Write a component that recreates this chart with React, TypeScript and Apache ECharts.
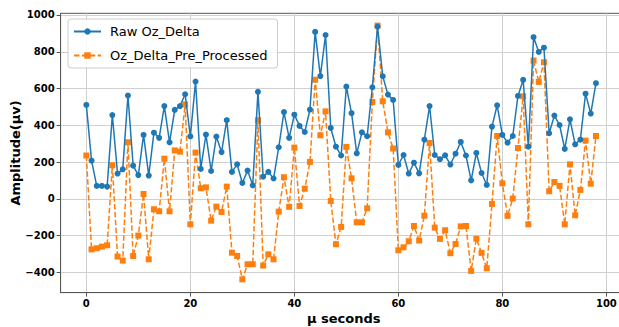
import React, { useEffect, useRef } from "react";
import * as echarts from "echarts";

const rawOzDelta = [
  511, 208, 71, 71, 67, 456, 138, 161, 562, 181,
  130, 348, 127, 360, 332, 505, 308, 484, 505, 569,
  340, 638, 163, 350, 152, 339, 255, 428, 147, 188,
  87, 154, 74, 582, 121, 147, 111, 281, 472, 332,
  458, 397, 364, 485, 908, 668, 891, 386, 284, 236,
  611, 466, 248, 362, 341, 607, 937, 667, 567, 538,
  185, 239, 138, 197, 139, 322, 505, 239, 216, 237,
  187, 246, 310, 236, 101, 250, 141, 76, 393, 509,
  348, 306, 342, 560, 647, 284, 879, 799, 822, 357,
  453, 402, 272, 433, 297, 322, 572, 464, 629,
];

const preProcessed = [
  236, -274, -268, -259, -252, 183, -313, -335, 308, -310,
  -199, 27, -328, -56, -67, 219, -67, 264, 257, 514,
  -138, 252, 58, 63, -118, -42, -71, 67, -292, -310,
  -437, -355, -355, 428, -362, -301, -328, -69, 118, -43,
  279, -38, 56, 201, 648, 346, 476, -11, -246, -152,
  283, 112, -127, -127, -51, 527, 942, 531, 362, 274,
  -279, -263, -230, -147, -226, -91, 304, -156, -217, -170,
  -295, -245, -149, -147, -391, -216, -293, -377, -27, 342,
  85, -92, 2, 277, 558, -138, 752, 636, 743, 42,
  92, 71, -138, 188, -89, 49, 317, 83, 342,
];

const seriesNames = ["Raw Oz_Delta", "Oz_Delta_Pre_Processed"];
const xTickLabels = [0, 20, 40, 60, 80, 100];
const yTickLabels = [-400, -200, 0, 200, 400, 600, 800, 1000];

const FONT = "DejaVu Sans";

export default function App() {
  const ref = useRef<HTMLDivElement>(null);
  useEffect(() => {
    document.body.style.margin = "0";
    const chart = echarts.init(ref.current!, null, { renderer: "svg" });
    const fmtNum = (v: number) => (v < 0 ? "\u2212" + Math.abs(v) : String(v));
    chart.setOption({
      animation: false,
      backgroundColor: "#ffffff",
      grid: {
        left: 60.6,
        top: 13.3,
        width: 566.3,
        height: 279.3,
        outerBoundsMode: "none",
        containLabel: false,
        show: true,
        borderColor: "#555",
        borderWidth: 1,
        backgroundColor: "transparent",
      },
      legend: {
        left: 68,
        top: 19,
        orient: "vertical",
        padding: [6, 10, 6, 5],
        itemWidth: 27,
        itemHeight: 8,
        itemGap: 11,
        backgroundColor: "rgba(255,255,255,0.85)",
        borderColor: "#cccccc",
        borderWidth: 1,
        borderRadius: 3,
        textStyle: { fontFamily: FONT, fontSize: 13, color: "#000", padding: [0, 0, 0, 4] },
        data: seriesNames,
      },
      xAxis: {
        type: "value",
        min: -4.95,
        max: 103.95,
        splitNumber: 5,
        name: "µ seconds",
        nameLocation: "middle",
        nameGap: 19,
        nameMoveOverlap: false,
        nameTextStyle: { fontFamily: FONT, fontSize: 13, fontWeight: "bold", color: "#000", verticalAlign: "top" },
        axisLine: { show: true, onZero: false, lineStyle: { color: "#555", width: 1 } },
        axisTick: { show: true, length: 4, lineStyle: { color: "#555" } },
        axisLabel: {
          fontFamily: FONT,
          fontSize: 10,
          fontWeight: "bold",
          color: "#000",
          margin: 6,
          showMinLabel: false,
          showMaxLabel: false,
          formatter: (v: number) => (xTickLabels.includes(v) ? fmtNum(v) : ""),
        },
        splitLine: { show: true, showMinLine: false, showMaxLine: false, lineStyle: { color: "#d0d0d0", width: 1 } },
      },
      yAxis: {
        type: "value",
        min: -509,
        max: 1009,
        splitNumber: 7,
        name: "Amplitude(µv)",
        nameLocation: "middle",
        nameGap: 39,
        nameMoveOverlap: false,
        nameTextStyle: { fontFamily: FONT, fontSize: 13, fontWeight: "bold", color: "#000" },
        axisLine: { show: true, onZero: false, lineStyle: { color: "#555", width: 1 } },
        axisTick: { show: true, length: 4, lineStyle: { color: "#555" } },
        axisLabel: {
          fontFamily: FONT,
          fontSize: 10,
          fontWeight: "bold",
          color: "#000",
          margin: 6,
          showMinLabel: false,
          showMaxLabel: false,
          formatter: (v: number) => (yTickLabels.includes(v) ? fmtNum(v) : ""),
        },
        splitLine: { show: true, showMinLine: false, showMaxLine: false, lineStyle: { color: "#d0d0d0", width: 1 } },
      },
      series: [
        {
          name: seriesNames[0],
          type: "line",
          data: rawOzDelta.map((v, i) => [i, v]),
          symbol: "circle",
          symbolSize: 6,
          showAllSymbol: true,
          color: "#1f77b4",
          lineStyle: { color: "#1f77b4", width: 1.5 },
          itemStyle: { color: "#1f77b4" },
          z: 3,
        },
        {
          name: seriesNames[1],
          type: "line",
          data: preProcessed.map((v, i) => [i, v]),
          symbol: "rect",
          symbolSize: 6,
          showAllSymbol: true,
          color: "#ff7f0e",
          lineStyle: { color: "#ff7f0e", width: 1.5, type: [5.5, 2.4] },
          itemStyle: { color: "#ff7f0e" },
          z: 2,
        },
      ],
    });
    return () => chart.dispose();
  }, []);
  return (
    <div
      ref={ref}
      style={{ position: "fixed", left: 0, top: 0, width: 619, height: 327 }}
    />
  );
}
